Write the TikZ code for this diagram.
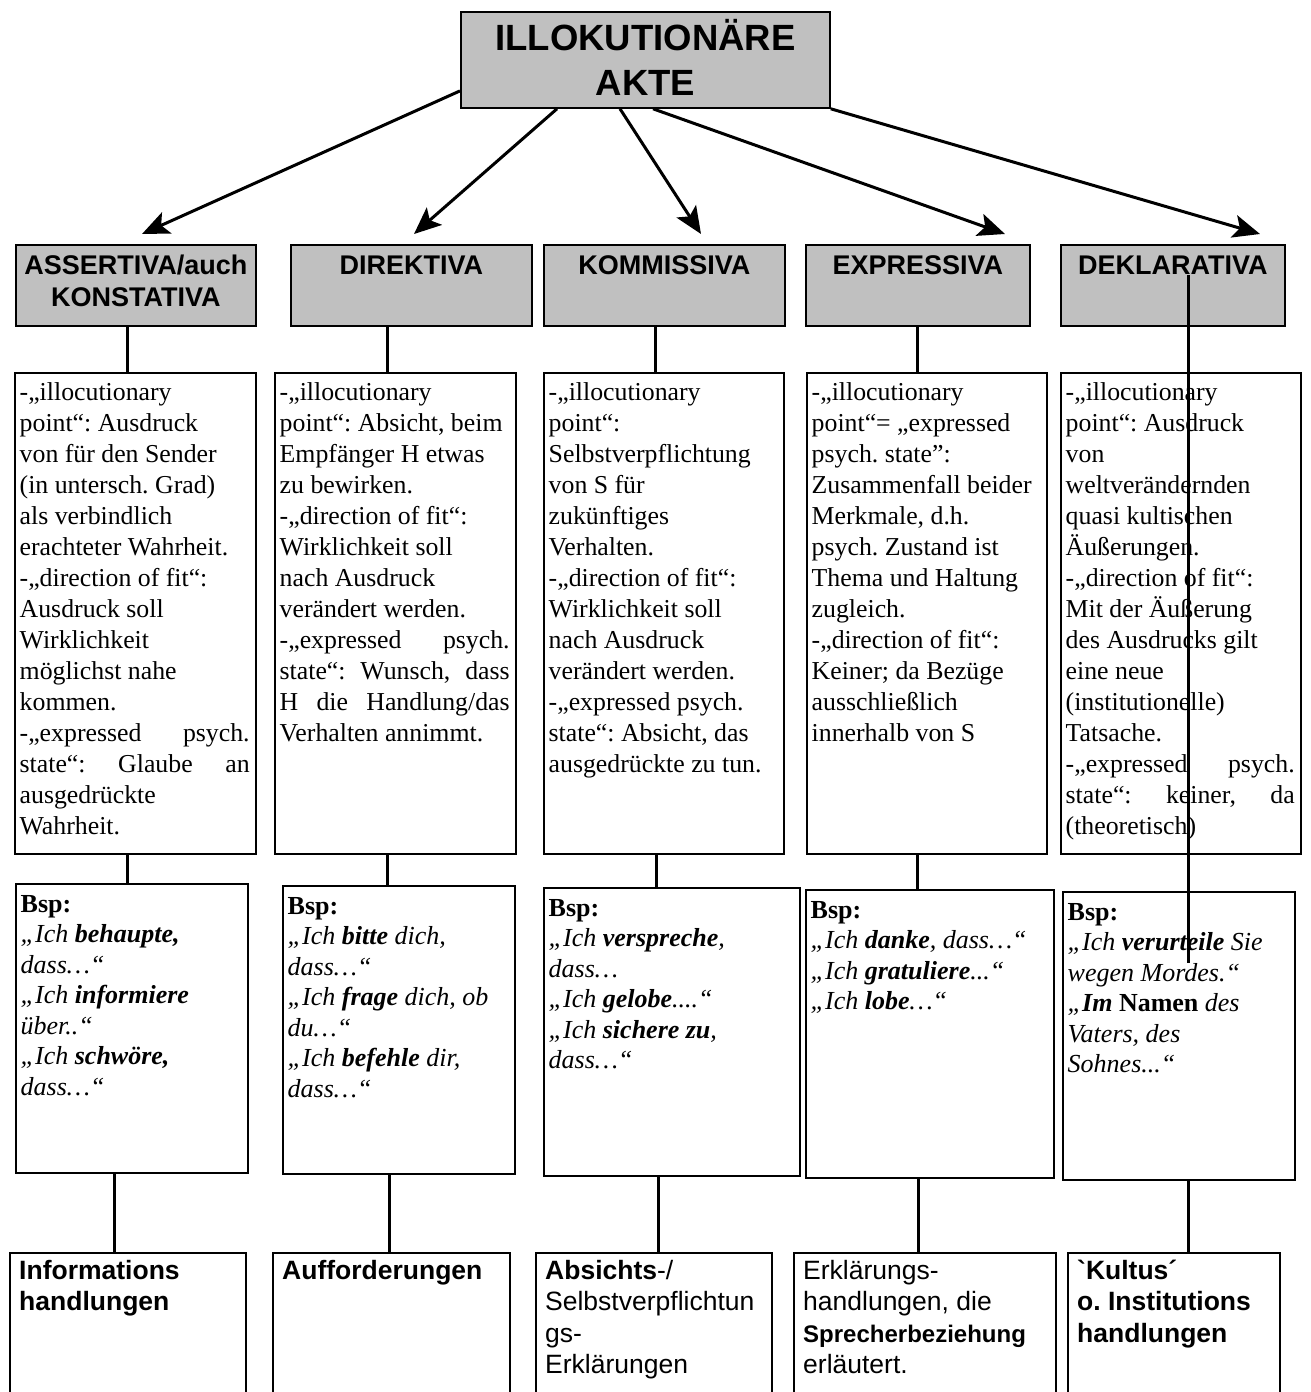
\documentclass[tikz,border=0pt]{standalone}
\usepackage{fontspec}
\setmainfont{Liberation Serif}
\setsansfont{Liberation Sans}[Ligatures=TeXOff]
\usetikzlibrary{arrows.meta}
\definecolor{headgray}{HTML}{C0C0C0}
\frenchspacing

\newcommand{\headtext}[2]{\parbox[t]{#1}{\centering\fontsize{27}{32}\selectfont\sffamily\bfseries #2}}
\newcommand{\desctext}[2]{\parbox[t]{#1}{\raggedright\fontsize{25.8}{31}\selectfont #2}}
\newcommand{\bsptext}[2]{\parbox[t]{#1}{\raggedright\fontsize{26}{30.5}\selectfont\itshape {\upshape\bfseries Bsp:}\\ #2}}
\newcommand{\kindtext}[2]{\parbox[t]{#1}{\raggedright\fontsize{26.5}{31.5}\selectfont\sffamily #2}}
\newcommand{\jline}[1]{\makebox[\linewidth][s]{#1}}

\tikzset{
  panel/.style={draw, line width=1.8pt, anchor=north west, inner sep=0pt},
  headbox/.style={panel, fill=headgray},
  ptext/.style={anchor=base west, inner sep=0pt},
  htext/.style={anchor=base, inner sep=0pt},
  conn/.style={line width=3pt},
  pointer/.style={line width=3pt, -{Stealth[length=27pt, width=23pt, inset=6pt]}},
}

\begin{document}
\begin{tikzpicture}[x=1pt, y=-1pt]
  \path[use as bounding box, clip] (0,0) rectangle (1311,1392);

  % title
  \node[headbox, minimum width=369pt, minimum height=96pt] (title) at (460,11) {};
  \node[htext] (titletxt) at ([shift={(0,39)}]title.north)
    {\parbox[t]{360pt}{\centering\fontsize{36.5}{45}\selectfont\sffamily\bfseries ILLOKUTIONÄRE\\AKTE}};

  % classes
  \node[headbox, minimum width=240pt, minimum height=81pt] (hA) at (15,244) {};
  \node[headbox, minimum width=241pt, minimum height=81pt] (hD) at (290,244) {};
  \node[headbox, minimum width=241pt, minimum height=81pt] (hK) at (543,244) {};
  \node[headbox, minimum width=224pt, minimum height=81pt] (hE) at (805,244) {};
  \node[headbox, minimum width=224pt, minimum height=81pt] (hDK) at (1060,244) {};

  \node[htext] (hAt) at ([shift={(0,30)}]hA.north) {\headtext{232pt}{ASSERTIVA/auch\\KONSTATIVA}};
  \node[htext] (hDt) at ([shift={(0,30)}]hD.north) {\headtext{232pt}{DIREKTIVA}};
  \node[htext] (hKt) at ([shift={(0,30)}]hK.north) {\headtext{232pt}{KOMMISSIVA}};
  \node[htext] (hEt) at ([shift={(0,30)}]hE.north) {\headtext{216pt}{EXPRESSIVA}};
  \node[htext] (hDKt) at ([shift={(0,30)}]hDK.north) {\headtext{216pt}{DEKLARATIVA}};

  \draw[pointer] ([shift={(0,31)}]title.west) -- ([shift={(127,-10)}]hA.north west);
  \draw[pointer] ([shift={(97,0)}]title.south west) -- ([shift={(124,-10)}]hD.north west);
  \draw[pointer] ([shift={(160,0)}]title.south west) -- ([shift={(158,-10)}]hK.north west);
  \draw[pointer] ([shift={(193,0)}]title.south west) -- ([shift={(200,-10)}]hE.north west);
  \draw[pointer] (title.south east) -- ([shift={(200,-10)}]hDK.north west);

  % descriptions
  \node[panel, minimum width=241pt, minimum height=481pt] (dA) at (14,372) {};
  \node[panel, minimum width=241pt, minimum height=481pt] (dD) at (274,372) {};
  \node[panel, minimum width=240pt, minimum height=481pt] (dK) at (543,372) {};
  \node[panel, minimum width=240pt, minimum height=481pt] (dE) at (806,372) {};
  \node[panel, minimum width=240pt, minimum height=481pt] (dDK) at (1060,372) {};

  \node[ptext] (dAt) at ([shift={(5.5,28.5)}]dA.north west) {\desctext{230pt}{%
    -„illocutionary\\ point“: Ausdruck\\ von für den Sender\\ (in untersch. Grad)\\
    als verbindlich\\ erachteter Wahrheit.\\ -„direction of fit“:\\ Ausdruck soll\\
    Wirklichkeit\\ möglichst nahe\\ kommen.\\ \jline{-„expressed psych.}\\
    \jline{state“: Glaube an}\\ ausgedrückte\\ Wahrheit.}};
  \node[ptext] (dDt) at ([shift={(5.5,28.5)}]dD.north west) {\desctext{230pt}{%
    -„illocutionary\\ point“: Absicht, beim\\ Empfänger H etwas\\ zu bewirken.\\
    -„direction of fit“:\\ Wirklichkeit soll\\ nach Ausdruck\\ verändert werden.\\
    \jline{-„expressed psych.}\\ \jline{state“: Wunsch, dass}\\
    \jline{H die Handlung/das}\\ Verhalten annimmt.}};
  \node[ptext] (dKt) at ([shift={(5.5,28.5)}]dK.north west) {\desctext{229pt}{%
    -„illocutionary\\ point“:\\ Selbstverpflichtung\\ von S für\\ zukünftiges\\
    Verhalten.\\ -„direction of fit“:\\ Wirklichkeit soll\\ nach Ausdruck\\
    verändert werden.\\ -„expressed psych.\\ state“: Absicht, das\\ ausgedrückte zu tun.}};
  \node[ptext] (dEt) at ([shift={(5.5,28.5)}]dE.north west) {\desctext{229pt}{%
    -„illocutionary\\ point“= „expressed\\ psych. state”:\\ Zusammenfall beider\\
    Merkmale, d.h.\\ psych. Zustand ist\\ Thema und Haltung\\ zugleich.\\
    -„direction of fit“:\\ Keiner; da Bezüge\\ ausschließlich\\ innerhalb von S}};
  \node[ptext] (dDKt) at ([shift={(5.5,28.5)}]dDK.north west) {\desctext{229pt}{%
    -„illocutionary\\ point“: Ausdruck\\ von\\ weltverändernden\\ quasi kultischen\\
    Äußerungen.\\ -„direction of fit“:\\ Mit der Äußerung\\ des Ausdrucks gilt\\
    eine neue\\ (institutionelle)\\ Tatsache.\\ \jline{-„expressed psych.}\\
    \jline{state“: keiner, da}\\ (theoretisch)}};

  % examples
  \node[panel, minimum width=232pt, minimum height=289pt] (bA) at (15,883) {};
  \node[panel, minimum width=232pt, minimum height=288pt] (bD) at (282,885) {};
  \node[panel, minimum width=256pt, minimum height=288pt] (bK) at (543,887) {};
  \node[panel, minimum width=248pt, minimum height=288pt] (bE) at (805,889) {};
  \node[panel, minimum width=232pt, minimum height=288pt] (bDK) at (1062,891) {};

  \node[ptext] (bAt) at ([shift={(5.5,29)}]bA.north west) {\bsptext{221pt}{%
    „Ich \textbf{behaupte,}\\ dass…“\\ „Ich \textbf{informiere}\\ über..“\\
    „Ich \textbf{schwöre,}\\ dass…“}};
  \node[ptext] (bDt) at ([shift={(5.5,29)}]bD.north west) {\bsptext{221pt}{%
    „Ich \textbf{bitte} dich,\\ dass…“\\ „Ich \textbf{frage} dich, ob\\ du…“\\
    „Ich \textbf{befehle} dir,\\ dass…“}};
  \node[ptext] (bKt) at ([shift={(5.5,29)}]bK.north west) {\bsptext{245pt}{%
    „Ich \textbf{verspreche},\\ dass…\\ „Ich \textbf{gelobe}....“\\
    „Ich \textbf{sichere zu},\\ dass…“}};
  \node[ptext] (bEt) at ([shift={(5.5,29)}]bE.north west) {\bsptext{237pt}{%
    „Ich \textbf{danke}, dass…“\\ „Ich \textbf{gratuliere}...“\\ „Ich \textbf{lobe}…“}};
  \node[ptext] (bDKt) at ([shift={(5.5,29)}]bDK.north west) {\bsptext{221pt}{%
    „Ich \textbf{verurteile} Sie\\ wegen Mordes.“\\ „\textbf{Im} \textbf{\upshape Namen} des\\
    Vaters, des\\ Sohnes...“}};

  % kinds of acts
  \node[panel, minimum width=236pt, minimum height=160pt] (oA) at (9,1252) {};
  \node[panel, minimum width=237pt, minimum height=160pt] (oD) at (272,1252) {};
  \node[panel, minimum width=236pt, minimum height=160pt] (oK) at (535,1252) {};
  \node[panel, minimum width=262pt, minimum height=160pt] (oE) at (793,1252) {};
  \node[panel, minimum width=212pt, minimum height=160pt] (oDK) at (1067,1252) {};

  \node[ptext] (oAt) at ([shift={(10,27)}]oA.north west) {\kindtext{222pt}{\bfseries Informations\\ handlungen}};
  \node[ptext] (oDt) at ([shift={(10,27)}]oD.north west) {\kindtext{222pt}{\bfseries Aufforderungen}};
  \node[ptext] (oKt) at ([shift={(10,27)}]oK.north west) {\kindtext{222pt}{%
    \textbf{Absichts}-/\\ Selbstverpflichtun\\ gs-\\ Erklärungen}};
  \node[ptext] (oEt) at ([shift={(10,27)}]oE.north west) {\kindtext{246pt}{%
    Erklärungs-\\ handlungen, die\\ {\fontsize{24}{31.5}\selectfont\bfseries Sprecherbeziehung}\\ erläutert.}};
  \node[ptext] (oDKt) at ([shift={(10,27)}]oDK.north west) {\kindtext{200pt}{%
    \bfseries `Kultus´\\ o. Institutions\\ handlungen}};

  % connectors
  \draw[conn] (127.5,0 |- hA.south) -- (127.5,0 |- dA.north);
  \draw[conn] (387.5,0 |- hD.south) -- (387.5,0 |- dD.north);
  \draw[conn] (655,0 |- hK.south) -- (655,0 |- dK.north);
  \draw[conn] (917.5,0 |- hE.south) -- (917.5,0 |- dE.north);

  \draw[conn] (127.5,0 |- dA.south) -- (127.5,0 |- bA.north);
  \draw[conn] (387.5,0 |- dD.south) -- (387.5,0 |- bD.north);
  \draw[conn] (656,0 |- dK.south) -- (656,0 |- bK.north);
  \draw[conn] (917.5,0 |- dE.south) -- (917.5,0 |- bE.north);

  \draw[conn] (114.5,0 |- bA.south) -- (114.5,0 |- oA.north);
  \draw[conn] (389,0 |- bD.south) -- (389,0 |- oD.north);
  \draw[conn] (658,0 |- bK.south) -- (658,0 |- oK.north);
  \draw[conn] (918.5,0 |- bE.south) -- (918.5,0 |- oE.north);
  \draw[conn] (1188,0 |- bDK.south) -- (1188,0 |- oDK.north);

  \coordinate (dkTop) at (1188,275);
  \coordinate (dkEnd) at (1188,963);
  \draw[conn] (dkTop) -- (dkEnd);
\end{tikzpicture}
\end{document}
